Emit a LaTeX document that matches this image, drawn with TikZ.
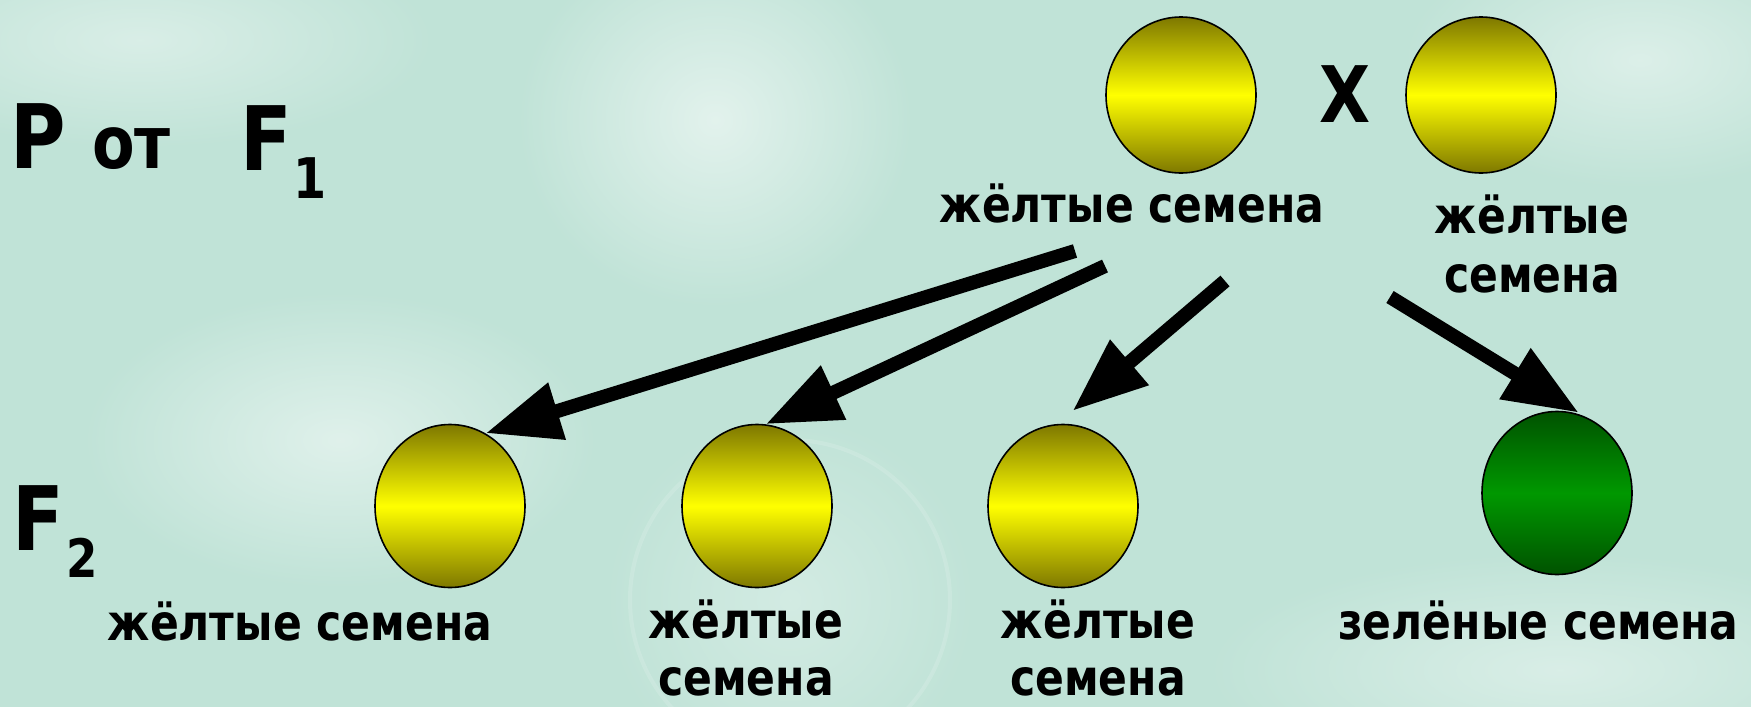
\documentclass[tikz,border=0pt]{standalone}
\usepackage{fontspec}
\usetikzlibrary{arrows.meta,shapes.geometric,fadings}
\newfontfamily\lab{DejaVu Sans}[FakeStretch=0.85]
\definecolor{bg}{RGB}{192,227,215}
\definecolor{olive}{RGB}{126,120,0}
\definecolor{seedyellow}{RGB}{255,255,0}
\definecolor{darkgreen}{RGB}{0,82,0}
\definecolor{midgreen}{RGB}{0,152,0}
\tikzfading[name=softblob, inner color=transparent!0, outer color=transparent!100]
\begin{document}
\begin{tikzpicture}[x=1pt,y=-1pt,
  seed/.style={ellipse, draw=black, line width=1.6pt, inner sep=0pt,
    minimum width=150pt, minimum height=163pt, shading=axis,
    top color=olive, bottom color=olive, middle color=seedyellow},
  greenseed/.style={seed, top color=darkgreen, bottom color=darkgreen,
    middle color=midgreen},
  lbl/.style={font=\lab\bfseries\fontsize{50}{60}\selectfont, inner sep=0pt, anchor=base},
  big/.style={font=\lab\bfseries\fontsize{89}{100}\selectfont, inner sep=0pt, anchor=base west},
  arr/.style={line width=14pt, -{Triangle[length=75pt,width=56pt]}},
  haze/.style={white, path fading=softblob},
]
% background with soft light patches
\fill[bg] (0,0) rectangle (1751,707);
\useasboundingbox (0,0) rectangle (1751,707);
\fill[haze, opacity=0.55] (715,120) ellipse (200 and 190);
\fill[haze, opacity=0.40] (140,40) ellipse (300 and 110);
\fill[haze, opacity=0.50] (340,440) ellipse (260 and 150);
\fill[haze, opacity=0.45] (1640,60) ellipse (240 and 130);
\fill[haze, opacity=0.40] (1560,670) ellipse (360 and 120);
\fill[haze, opacity=0.30] (790,600) circle (190);
\draw[white, opacity=0.14, line width=4pt] (790,600) circle (160);

% parents
\node[big] (P) at (10,168) {P};
\node[big, font=\lab\bfseries\fontsize{73}{80}\selectfont] (ot) at (92,168) {от};
\node[big] (F1) at (240,170) {F};
\node[big, font=\lab\bfseries\fontsize{56}{60}\selectfont] (one) at (293,198) {1};

\node[seed, minimum height=156pt] (p1) at (1181,95) {};
\node[seed, minimum height=156pt] (p2) at (1481,95) {};
\node[big, anchor=center, font=\lab\bfseries\fontsize{78}{80}\selectfont] (cross) at (1345,94) {X};

\node[lbl] (lp1) at (1132,222) {жёлтые семена};
\node[lbl] (lp2a) at (1532,233) {жёлтые};
\node[lbl] (lp2b) at (1532,292) {семена};

% offspring
\node[big] (F2) at (12,550) {F};
\node[big, font=\lab\bfseries\fontsize{53}{60}\selectfont] (two) at (66,577) {2};

\node[seed] (c1) at (450,506) {};
\node[seed] (c2) at (757,506) {};
\node[seed] (c3) at (1063,506) {};
\node[greenseed] (g) at (1557,493) {};

\node[lbl] (l1) at (300,640) {жёлтые семена};
\node[lbl] (l2a) at (746,638) {жёлтые};
\node[lbl] (l2b) at (746,695) {семена};
\node[lbl] (l3a) at (1098,638) {жёлтые};
\node[lbl] (l3b) at (1098,695) {семена};
\node[lbl, anchor=base west] (lg) at (1338,639) {зелёные семена};

% arrows
\coordinate (s1) at (1075,251);
\coordinate (s2) at (1105,266);
\coordinate (s3) at (1225,281);
\coordinate (s4) at (1390,297);
\draw[arr] (s1) -- (c1.64);
\draw[arr] (s2) -- (c2.84);
\draw[arr, shorten >=20pt] (s3) -- (c3.94);
\draw[arr, shorten >=7pt] (s4) -- (g.70);
\end{tikzpicture}
\end{document}
